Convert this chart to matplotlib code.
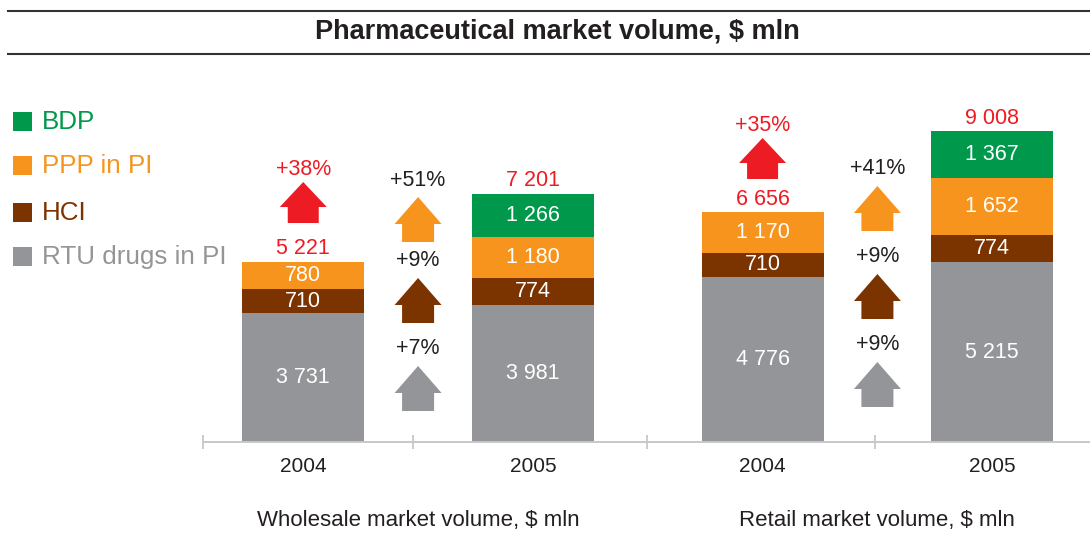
import matplotlib
matplotlib.use("Agg")
import matplotlib.pyplot as plt
from matplotlib.patches import Polygon, Rectangle
from matplotlib.lines import Line2D

plt.rcParams['font.family'] = ['Liberation Sans', 'DejaVu Sans']

# ---------------- data ----------------
categories = ['2004', '2005', '2004', '2005']
group_names = ['Wholesale market volume, $ mln', 'Retail market volume, $ mln']
series_names = ['BDP', 'PPP in PI', 'HCI', 'RTU drugs in PI']
rtu = [3731, 3981, 4776, 5215]
hci = [710, 774, 710, 774]
ppp = [780, 1180, 1170, 1652]
bdp = [0, 1266, 0, 1367]
totals = [5221, 7201, 6656, 9008]
growth_total = ['+38%', '+35%']
growth_ppp = ['+51%', '+41%']
growth_hci = ['+9%', '+9%']
growth_rtu = ['+7%', '+9%']

# ---------------- styles ----------------
C_GREEN = '#00994C'
C_ORANGE = '#F7941D'
C_BROWN = '#7B3300'
C_GRAY = '#939598'
C_RED = '#ED1C24'
C_TEXT = '#231F20'

W, H = 1090, 533
fig = plt.figure(figsize=(W / 100, H / 100), dpi=100)

def fx(px):
    return px / W

def fy(py):
    return 1 - py / H

# main axes: x from px 203 to 1090, baseline at px 442
ax_left, ax_right, ax_bottom, ax_top = 203, 1090, 442, 97
ax = fig.add_axes([fx(ax_left), fy(ax_bottom), (ax_right - ax_left) / W, (ax_bottom - ax_top) / H])
ax.set_xlim(-0.4365, 3.4256)
ax.set_ylim(0, 10000)

x = list(range(len(categories)))
bw = 0.531
segs = [(rtu, C_GRAY), (hci, C_BROWN), (ppp, C_ORANGE), (bdp, C_GREEN)]
bottoms = [0] * len(x)
for vals, col in segs:
    ax.bar(x, vals, bw, bottom=bottoms, color=col, linewidth=0, zorder=2)
    for i, v in enumerate(vals):
        if v > 0:
            s = f"{v:,}".replace(',', ' ')
            ax.text(x[i], bottoms[i] + v / 2, s, ha='center', va='center',
                    color='white', fontsize=15.5, zorder=3)
    bottoms = [b + v for b, v in zip(bottoms, vals)]

for i, t in enumerate(totals):
    ax.annotate(f"{t:,}".replace(',', ' '), (x[i], t), xytext=(0, 13),
                textcoords='offset pixels', ha='center', va='center',
                color=C_RED, fontsize=15.5)

for s in ['top', 'right', 'left']:
    ax.spines[s].set_visible(False)
ax.spines['bottom'].set_color('#C8C8C8')
ax.spines['bottom'].set_linewidth(1.4)
ax.set_yticks([])
sep_ticks = [-0.4365, 0.4777, 1.4966, 2.4893]
ax.set_xticks(sep_ticks)
ax.set_xticklabels([''] * len(sep_ticks))
ax.tick_params(axis='x', which='major', direction='inout', length=9.5, width=1.3, color='#C8C8C8')
ax.set_xticks(x, minor=True)
ax.set_xticklabels(categories, minor=True, fontsize=15, color=C_TEXT)
ax.tick_params(axis='x', which='minor', length=0, pad=11)

# group labels
group_centers = [0.5, 2.5]
for gc, name in zip(group_centers, group_names):
    ax.text(gc, -0.228, name, transform=ax.get_xaxis_transform(), ha='center',
            va='center', fontsize=16, color=C_TEXT)

# overlay in pixel coordinates
ov = fig.add_axes([0, 0, 1, 1], zorder=5)
ov.set_xlim(0, W)
ov.set_ylim(H, 0)
ov.axis('off')

# title and rules
ov.add_line(Line2D([8, W], [11, 11], color='#333333', lw=1.5))
ov.add_line(Line2D([8, W], [54, 54], color='#333333', lw=1.5))
ov.text(557, 31.5, 'Pharmaceutical market volume, $ mln', ha='center', va='center',
        fontsize=19.5, fontweight='bold', color=C_TEXT)

# legend
legend_cols = [C_GREEN, C_ORANGE, C_BROWN, C_GRAY]
legend_y = [121, 165, 212, 256]
for name, col, yy in zip(series_names, legend_cols, legend_y):
    ov.add_patch(Rectangle((13, yy - 9.5), 19, 19, color=col, lw=0))
    ov.text(42, yy + 1, name, ha='left', va='center', fontsize=18.7, color=col)

def xpix(xd):
    return ax.transData.transform((xd, 0))[0]

def arrow(cx, apex, w=47, h=45, head=27, shaft=32, color='k'):
    pts = [(cx, apex), (cx + w / 2, apex + head), (cx + shaft / 2, apex + head),
           (cx + shaft / 2, apex + h), (cx - shaft / 2, apex + h),
           (cx - shaft / 2, apex + head), (cx - w / 2, apex + head)]
    ov.add_patch(Polygon(pts, closed=True, color=color, lw=0))

# arrow layout (pixel apex positions per group)
red_apex = [182, 138]
ppp_apex = [197, 186]
hci_apex = [278, 274]
rtu_apex = [366, 362]
for g in range(2):
    cx_red = xpix(x[2 * g])
    cx_mid = xpix(group_centers[g])
    arrow(cx_red, red_apex[g], w=47, h=41, head=25, shaft=31, color=C_RED)
    ov.text(cx_red, red_apex[g] - 12.5, growth_total[g], ha='center', va='center',
            fontsize=15.5, color=C_RED)
    for ap, lab, col in [(ppp_apex[g], growth_ppp[g], C_ORANGE),
                         (hci_apex[g], growth_hci[g], C_BROWN),
                         (rtu_apex[g], growth_rtu[g], C_GRAY)]:
        arrow(cx_mid, ap, color=col)
        ov.text(cx_mid, ap - 17, lab, ha='center', va='center', fontsize=15.5, color=C_TEXT)

fig.savefig('out.png', dpi=100)
